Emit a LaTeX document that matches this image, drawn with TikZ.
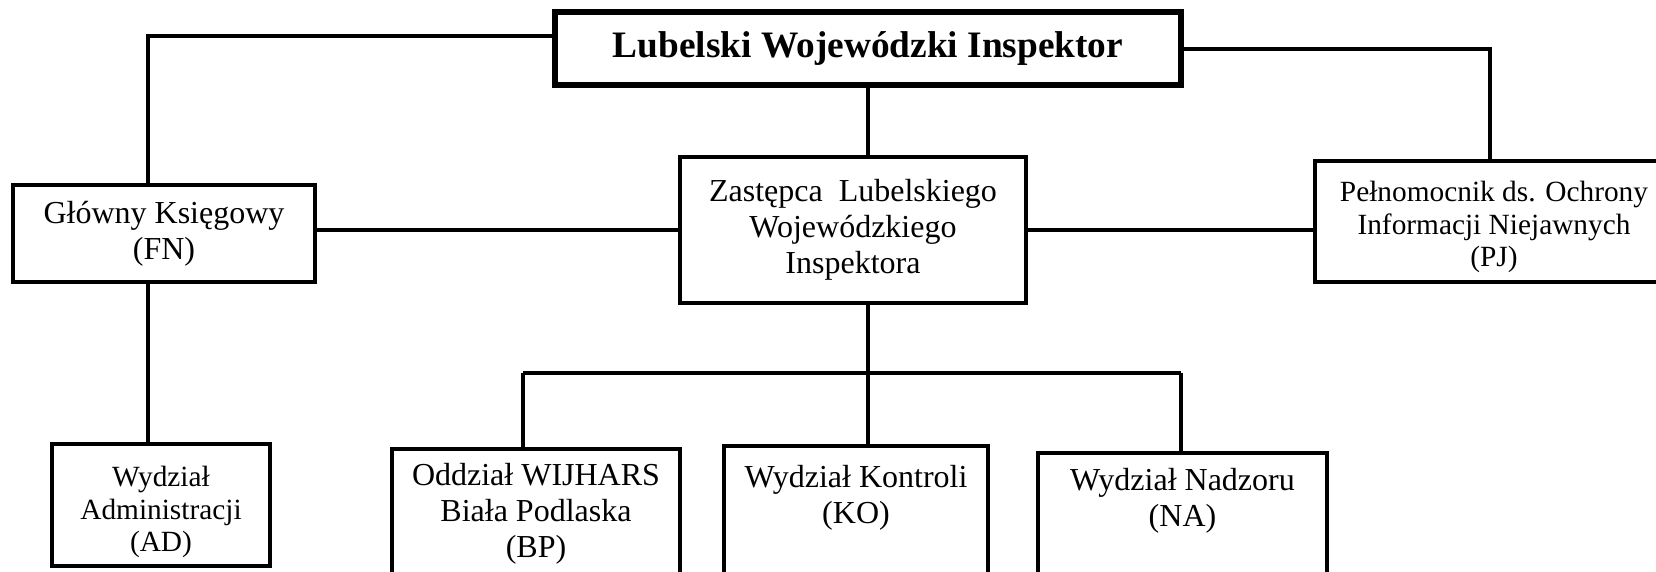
\documentclass[tikz,border=0pt]{standalone}
\usepackage{fontspec}
\setmainfont{Liberation Serif}
\begin{document}
\begin{tikzpicture}[x=0.5pt,y=-0.5pt,
  box/.style={draw, line width=1.75pt, inner sep=0pt, align=center, font=\fontsize{16}{18}\selectfont},
  txt/.style={inner sep=0pt, align=center, font=\fontsize{16}{18}\selectfont},
  small/.style={font=\fontsize{14.67}{16.4}\selectfont},
  conn/.style={line width=1.6pt}]
\useasboundingbox (0,0) rectangle (1656,572);
% boxes
\node[box, line width=2.6pt, minimum width=313pt, minimum height=36.5pt,
      font=\bfseries\fontsize{18.67}{21}\selectfont] (top) at (868,48.5) {Lubelski Wojewódzki Inspektor};
\node[box, minimum width=151pt, minimum height=48.5pt] (gk) at (164,233.5) {Główny Księgowy\\(FN)};
\node[box, minimum width=173pt, minimum height=73pt] (zas) at (853,230) {Zastępca~ Lubelskiego\\Wojewódzkiego\\Inspektora};
\node[box, minimum width=179pt, minimum height=60.5pt] (pel) at (1494,221.5) {};
\node[box, minimum width=109pt, minimum height=61pt] (ad) at (161,505) {};
\node[box, minimum width=144pt, minimum height=85.5pt] (bp) at (536,534.5) {};
\node[box, minimum width=132pt, minimum height=87pt] (ko) at (856,533) {};
\node[box, minimum width=144.5pt, minimum height=83.5pt] (na) at (1182.5,536.5) {};
% box texts
\node[txt, small] (pelt) at (1494,227) {Pełnomocnik ds. Ochrony\\Informacji Niejawnych\\(PJ)};
\node[txt, small] (adt) at (161,512) {Wydział\\Administracji\\(AD)};
\node[txt] (bpt) at (536,514) {Oddział WIJHARS\\Biała Podlaska\\(BP)};
\node[txt] (kot) at (856,497.5) {Wydział Kontroli\\(KO)};
\node[txt] (nat) at (1182.5,500.5) {Wydział Nadzoru\\(NA)};
% bend points
\coordinate (tl) at (148,36);
\coordinate (tr) at (1490,49);
\coordinate (busL) at (523,373);
\coordinate (busR) at (1181,373);
% connectors
\draw[conn] (tl -| top.west) -- (tl) -- (tl |- gk.north);
\draw[conn] (tr -| top.east) -- (tr) -- (tr |- pel.north);
\draw[conn] (top.south) -- (top.south |- zas.north);
\draw[conn] (gk.east |- zas.west) -- (zas.west);
\draw[conn] (zas.east) -- (pel.west |- zas.east);
\draw[conn] (tl |- gk.south) -- (tl |- ad.north);
\draw[conn] (top.south |- zas.south) -- (top.south |- ko.north);
\draw[conn] (busL) -- (busR);
\draw[conn] (busL) -- (busL |- bp.north);
\draw[conn] (busR) -- (busR |- na.north);
\end{tikzpicture}
\end{document}
